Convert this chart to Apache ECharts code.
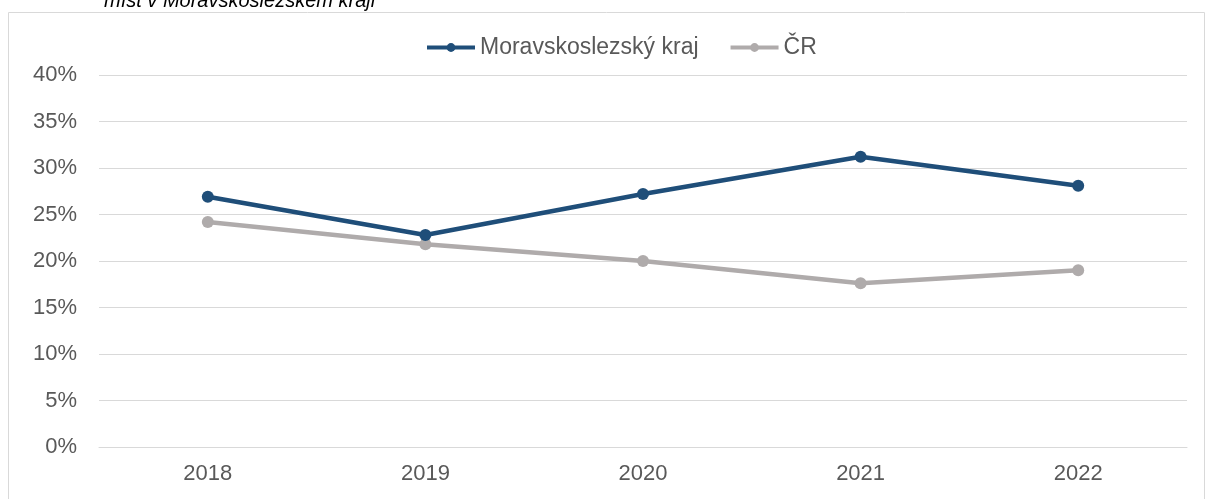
<!DOCTYPE html>
<html>
<head>
<meta charset="utf-8">
<script src="https://cdn.jsdelivr.net/npm/echarts@6/dist/echarts.min.js"></script>
<style>
  html, body { margin: 0; padding: 0; background: #fff; }
  #chart { width: 1208px; height: 499px; }
</style>
</head>
<body>
<div id="chart"></div>
<script>
// roky
const years = ['2018', '2019', '2020', '2021', '2022'];
// podíl v % - Moravskoslezský kraj
const msk = [26.9, 22.8, 27.2, 31.2, 28.1];
// podíl v % - ČR
const cr = [24.2, 21.8, 20.0, 17.6, 19.0];

const myChart = echarts.init(document.getElementById('chart'));

const option = {
  animation: false,
  textStyle: { fontFamily: 'Liberation Sans, Arial, sans-serif' },
  graphic: [
    {
      // rámeček grafu
      type: 'rect',
      shape: { x: 8.5, y: 12.5, width: 1196, height: 500 },
      style: { fill: 'none', stroke: '#d9d9d9', lineWidth: 1 }
    },
    {
      // oříznutý nadpis nahoře
      type: 'text',
      left: 104,
      top: -9,
      style: {
        text: 'míst v Moravskoslezském kraji',
        font: 'italic 20px Liberation Sans, Arial, sans-serif',
        fill: '#000'
      }
    }
  ],
  legend: {
    top: 31,
    left: 420,
    itemWidth: 48,
    itemHeight: 11,
    itemGap: 30,
    lineStyle: { width: 4 },
    textStyle: { fontSize: 23, color: '#595959' },
    data: ['Moravskoslezský kraj', 'ČR']
  },
  grid: { left: 99, right: 21, top: 75, bottom: 52 },
  xAxis: {
    type: 'category',
    data: years,
    boundaryGap: true,
    axisLine: { show: true, lineStyle: { color: '#d9d9d9' } },
    axisTick: { show: false },
    axisLabel: { fontSize: 22, color: '#595959', margin: 16 }
  },
  yAxis: {
    type: 'value',
    min: 0,
    max: 40,
    interval: 5,
    axisLine: { show: false },
    axisTick: { show: false },
    axisLabel: { fontSize: 22, color: '#595959', margin: 22, formatter: '{value}%' },
    splitLine: { lineStyle: { color: '#d9d9d9' } }
  },
  series: [
    {
      name: 'Moravskoslezský kraj',
      type: 'line',
      data: msk,
      symbol: 'circle',
      symbolSize: 12,
      lineStyle: { width: 4.5, color: '#1f4e79' },
      itemStyle: { color: '#1f4e79' },
      z: 3
    },
    {
      name: 'ČR',
      type: 'line',
      data: cr,
      symbol: 'circle',
      symbolSize: 12,
      lineStyle: { width: 4.5, color: '#afabab' },
      itemStyle: { color: '#afabab' },
      z: 2
    }
  ]
};

myChart.setOption(option);
</script>
</body>
</html>
